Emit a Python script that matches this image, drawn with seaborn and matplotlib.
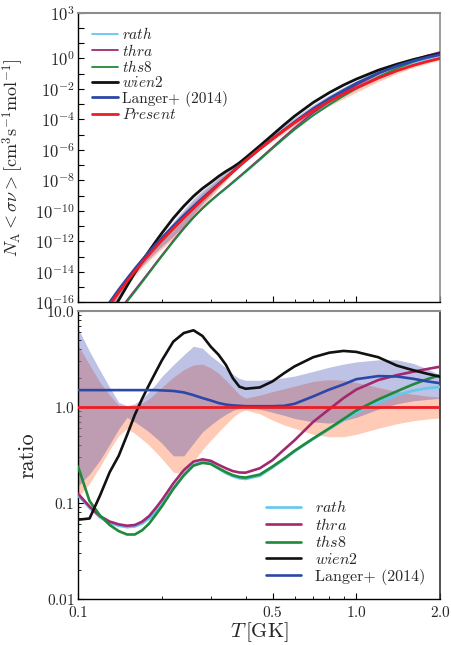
import numpy as np
import pandas as pd
import matplotlib
matplotlib.use('Agg')
import matplotlib.pyplot as plt
import seaborn as sns
from matplotlib.ticker import FixedLocator, FixedFormatter, NullFormatter, NullLocator, FuncFormatter

# temperature grid [GK]
T = [0.10, 0.11, 0.12, 0.13, 0.14, 0.15, 0.16, 0.17, 0.18, 0.19, 0.20,
     0.22, 0.24, 0.26, 0.28, 0.30, 0.32, 0.34, 0.36, 0.38, 0.40,
     0.45, 0.50, 0.55, 0.60, 0.70, 0.80, 0.90, 1.0, 1.2, 1.4, 1.6, 1.8, 2.0]

# log10 of the present rate
present_log = [-19.32, -18.13, -17.09, -16.17, -15.35, -14.63, -13.98, -13.40, -12.87, -12.39, -11.95,
               -11.16, -10.46, -9.84, -9.27, -8.76, -8.28, -7.85, -7.44, -7.06, -6.71,
               -5.94, -5.28, -4.71, -4.21, -3.41, -2.81, -2.33, -1.93, -1.29, -0.81, -0.46, -0.20, 0.0]

# ratios to the present rate
rath = [0.120, 0.089, 0.071, 0.062, 0.058, 0.056, 0.057, 0.061, 0.069, 0.080, 0.096,
        0.143, 0.193, 0.250, 0.268, 0.258, 0.228, 0.205, 0.190, 0.181, 0.178,
        0.192, 0.235, 0.285, 0.345, 0.465, 0.59, 0.73, 0.87, 1.12, 1.33, 1.48, 1.57, 1.62]
thra = [0.125, 0.092, 0.073, 0.064, 0.060, 0.058, 0.059, 0.064, 0.073, 0.088, 0.107,
        0.160, 0.220, 0.270, 0.285, 0.275, 0.250, 0.230, 0.215, 0.208, 0.207,
        0.230, 0.280, 0.360, 0.450, 0.70, 0.95, 1.24, 1.52, 1.91, 2.15, 2.33, 2.49, 2.63]
ths8 = [0.240, 0.105, 0.074, 0.059, 0.051, 0.047, 0.047, 0.052, 0.061, 0.075, 0.092,
        0.140, 0.195, 0.245, 0.262, 0.255, 0.230, 0.210, 0.195, 0.187, 0.184,
        0.198, 0.240, 0.290, 0.350, 0.47, 0.60, 0.75, 0.92, 1.20, 1.46, 1.72, 1.95, 2.15]
wien2 = [0.067, 0.069, 0.12, 0.21, 0.31, 0.51, 0.83, 1.22, 1.7, 2.3, 3.05,
         4.8, 5.9, 6.3, 5.5, 4.25, 3.5, 2.75, 2.0, 1.63, 1.55,
         1.6, 1.85, 2.25, 2.65, 3.3, 3.68, 3.84, 3.75, 3.3, 2.7, 2.42, 2.22, 2.07]
langer = [1.50, 1.50, 1.50, 1.50, 1.50, 1.50, 1.50, 1.50, 1.50, 1.50, 1.49,
          1.47, 1.42, 1.33, 1.24, 1.17, 1.10, 1.06, 1.04, 1.03, 1.02,
          1.02, 1.02, 1.03, 1.08, 1.29, 1.52, 1.72, 1.95, 2.10, 2.08, 1.97, 1.85, 1.77]

# uncertainty bands (ratio to present)
langer_hi = [6.6, 3.8, 2.4, 1.6, 1.12, 1.03, 1.08, 1.22, 1.45, 1.72, 2.08,
             2.75, 3.5, 4.3, 4.1, 3.4, 2.95, 2.55, 2.2, 1.98, 1.9,
             1.9, 1.95, 2.02, 2.1, 2.35, 2.6, 2.8, 2.95, 3.1, 3.1, 2.85, 2.5, 2.15]
langer_lo = [0.15, 0.2, 0.28, 0.41, 0.59, 0.78, 0.7, 0.62, 0.55, 0.48, 0.42,
             0.31, 0.31, 0.42, 0.55, 0.65, 0.75, 0.84, 0.92, 0.98, 1.0,
             0.95, 0.88, 0.82, 0.76, 0.7, 0.68, 0.72, 0.78, 0.95, 1.08, 1.16, 1.2, 1.23]
present_hi = [4.4, 2.75, 1.8, 1.33, 1.04, 1.0, 1.03, 1.1, 1.22, 1.4, 1.6,
              2.05, 2.45, 2.75, 2.8, 2.55, 2.25, 1.9, 1.6, 1.35, 1.24,
              1.33, 1.45, 1.55, 1.65, 1.85, 1.93, 1.9, 1.8, 1.6, 1.45, 1.36, 1.3, 1.27]
present_lo = [0.115, 0.16, 0.24, 0.36, 0.5, 0.6, 0.53, 0.46, 0.4, 0.34, 0.29,
              0.21, 0.2, 0.27, 0.36, 0.45, 0.55, 0.66, 0.78, 0.88, 0.93,
              0.85, 0.73, 0.65, 0.6, 0.52, 0.49, 0.49, 0.52, 0.6, 0.67, 0.72, 0.75, 0.77]

models = ['rath', 'thra', 'ths8', 'wien2', 'langer']
labels = {'rath': '$rath$', 'thra': '$thra$', 'ths8': '$ths8$', 'wien2': '$wien2$',
          'langer': 'Langer+ (2014)', 'present': '$Present$'}
colors = {'rath': '#62c8ee', 'thra': '#a3286f', 'ths8': '#1f8a3a', 'wien2': '#111111',
          'langer': '#2b48a8', 'present': '#ee1c24'}
top_lw = {'rath': 1.3, 'thra': 1.3, 'ths8': 1.3, 'wien2': 2.0, 'langer': 2.0, 'present': 2.0}

df = pd.DataFrame({'T': T, 'rath': rath, 'thra': thra, 'ths8': ths8, 'wien2': wien2,
                   'langer': langer, 'langer_hi': langer_hi, 'langer_lo': langer_lo,
                   'present_hi': present_hi, 'present_lo': present_lo})
df['present'] = 10.0 ** np.array(present_log)

sns.set_style('ticks')
plt.rcParams['font.family'] = ['cmr10', 'DejaVu Serif']
plt.rcParams['mathtext.fontset'] = 'cm'
plt.rcParams['axes.unicode_minus'] = False
plt.rcParams['axes.formatter.use_mathtext'] = True

fig = plt.figure(figsize=(4.51, 6.45), dpi=100)
ax1 = fig.add_axes([0.173, 0.5313, 0.8027, 0.449])
ax2 = fig.add_axes([0.173, 0.0713, 0.8027, 0.4465])

salmon = '#ffa07a'
lavender = '#2838aa'

# ---- top panel: rates
ax1.fill_between(df['T'], df['present'] * df['present_lo'], df['present'] * df['present_hi'],
                 color=salmon, alpha=0.55, lw=0, zorder=1)
ax1.fill_between(df['T'], df['present'] * df['langer_lo'], df['present'] * df['langer_hi'],
                 color=lavender, alpha=0.3, lw=0, zorder=2)
for m in models:
    sns.lineplot(x=df['T'], y=df['present'] * df[m], ax=ax1, color=colors[m],
                 lw=top_lw[m], label=labels[m], errorbar=None, zorder=3)
sns.lineplot(x=df['T'], y=df['present'], ax=ax1, color=colors['present'],
             lw=2.0, label=labels['present'], errorbar=None, zorder=4)

ax1.set_xscale('log')
ax1.set_yscale('log')
ax1.set_xlim(0.1, 2.0)
ax1.set_ylim(1e-16, 1e3)
ax1.set_xlabel('')
ax1.set_ylabel(r'$N_{\rm A}<\sigma\nu>[{\rm cm}^3{\rm s}^{-1}{\rm mol}^{-1}]$', fontsize=13, labelpad=6)

shown = [3, 0, -2, -4, -6, -8, -10, -12, -14, -16]
ax1.yaxis.set_major_locator(FixedLocator(10.0 ** np.arange(-16, 4)))
ax1.yaxis.set_major_formatter(FuncFormatter(
    lambda v, p: '$10^{%d}$' % round(np.log10(v)) if round(np.log10(v)) in shown else ''))
ax1.yaxis.set_minor_locator(NullLocator())

h, l = ax1.get_legend_handles_labels()
ax1.legend(h, l, loc='upper left', frameon=False, fontsize=11, handlelength=1.7,
           handletextpad=0.25, labelspacing=0.02)

# ---- bottom panel: ratios
ax2.fill_between(df['T'], df['present_lo'], df['present_hi'], color=salmon, alpha=0.55, lw=0, zorder=1)
ax2.fill_between(df['T'], df['langer_lo'], df['langer_hi'], color=lavender, alpha=0.3, lw=0, zorder=2)
for m in models:
    sns.lineplot(x=df['T'], y=df[m], ax=ax2, color=colors[m], lw=1.9,
                 label=labels[m], errorbar=None, zorder=3)
ax2.axhline(1.0, color=colors['present'], lw=2.0, zorder=4)

ax2.set_xscale('log')
ax2.set_yscale('log')
ax2.set_xlim(0.1, 2.0)
ax2.set_ylim(0.01, 10.0)
ax2.set_xlabel(r'$T\,[{\rm GK}]$', fontsize=15, labelpad=0)
ax2.set_ylabel('ratio', fontsize=16, labelpad=6)

ax2.yaxis.set_major_locator(FixedLocator([0.01, 0.1, 1.0, 10.0]))
ax2.yaxis.set_major_formatter(FixedFormatter(['$0.01$', '$0.1$', '$1.0$', '$10.0$']))
ax2.yaxis.set_minor_locator(matplotlib.ticker.LogLocator(base=10, subs=np.arange(2, 10)))
ax2.yaxis.set_minor_formatter(NullFormatter())

h, l = ax2.get_legend_handles_labels()
ax2.legend(h, l, loc='lower right', frameon=False, fontsize=11.5, handlelength=2.2,
           handletextpad=0.9, labelspacing=0.1)

for ax in (ax1, ax2):
    ax.xaxis.set_major_locator(FixedLocator([0.1, 0.5, 1.0, 2.0]))
    ax.xaxis.set_minor_locator(FixedLocator([0.2, 0.3, 0.4, 0.6, 0.7, 0.8, 0.9]))
    ax.xaxis.set_minor_formatter(NullFormatter())
    ax.tick_params(which='both', direction='in', top=False, right=False, labelsize=11,
                   color='black', pad=2.5)
    ax.tick_params(which='major', length=4, width=0.8)
    ax.tick_params(which='minor', length=2.5, width=0.6)
    for s in ('left', 'bottom'):
        ax.spines[s].set_color('black')
        ax.spines[s].set_linewidth(1.0)
    ax.spines['top'].set_color('#8c8c8c')
    ax.spines['top'].set_linewidth(1.5)
    ax.spines['right'].set_linewidth(1.2)

ax1.tick_params(axis='y', labelsize=12)
ax2.tick_params(axis='x', pad=4.5)
ax1.spines['right'].set_color('#8c8c8c')
ax2.spines['right'].set_color('#333333')
ax1.xaxis.set_major_formatter(NullFormatter())
ax2.xaxis.set_major_formatter(FixedFormatter(['$0.1$', '$0.5$', '$1.0$', '$2.0$']))

fig.savefig('out.png', dpi=100)
